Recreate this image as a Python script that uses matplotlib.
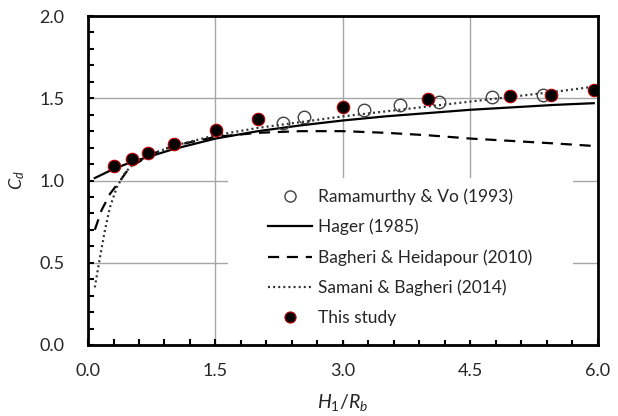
import numpy as np
import matplotlib.pyplot as plt
from matplotlib.lines import Line2D
from matplotlib.patches import Rectangle
from matplotlib.ticker import MultipleLocator

plt.rcParams['font.family'] = ['Lato', 'DejaVu Sans']
plt.rcParams['mathtext.fontset'] = 'custom'
plt.rcParams['mathtext.it'] = 'Lato:italic'
plt.rcParams['mathtext.rm'] = 'Lato'

# Ramamurthy & Vo (1993) - open circles
ram_x = [2.29, 2.54, 3.25, 3.67, 4.13, 4.75, 5.35]
ram_y = [1.35, 1.386, 1.43, 1.46, 1.477, 1.508, 1.52]

# Hager (1985) - solid line
hager_x = [0.08, 0.3, 0.5, 0.75, 1.0, 1.5, 2.0, 2.5, 3.0, 3.5, 4.0, 4.5, 5.0, 5.5, 5.95]
hager_y = [1.015, 1.07, 1.11, 1.15, 1.19, 1.255, 1.30, 1.335, 1.365, 1.39, 1.41, 1.43, 1.445, 1.46, 1.47]

# Bagheri & Heidapour (2010) - dashed line
bh_x = [0.08, 0.16, 0.26, 0.38, 0.49, 0.75, 1.0, 1.5, 2.0, 2.5, 3.0, 3.5, 4.0, 4.5, 5.0, 5.5, 5.95]
bh_y = [0.70, 0.82, 0.92, 1.0, 1.08, 1.16, 1.21, 1.265, 1.29, 1.30, 1.30, 1.29, 1.275, 1.255, 1.24, 1.225, 1.21]

# Samani & Bagheri (2014) - dotted line
sb_x = [0.08, 0.14, 0.2, 0.26, 0.34, 0.44, 0.55, 0.75, 1.0, 1.5, 2.0, 2.5, 3.0, 3.5, 4.0, 4.5, 5.0, 5.5, 5.95]
sb_y = [0.35, 0.53, 0.70, 0.84, 0.96, 1.05, 1.11, 1.16, 1.21, 1.275, 1.32, 1.355, 1.39, 1.42, 1.45, 1.48, 1.51, 1.54, 1.57]

# This study - filled circles
this_x = [0.31, 0.52, 0.71, 1.01, 1.51, 2.0, 3.0, 4.0, 4.96, 5.45, 5.95]
this_y = [1.088, 1.13, 1.167, 1.22, 1.31, 1.374, 1.447, 1.495, 1.514, 1.52, 1.55]

labels = ['Ramamurthy & Vo (1993)', 'Hager (1985)', 'Bagheri & Heidapour (2010)',
          'Samani & Bagheri (2014)', 'This study']

txt = '#262626'

fig = plt.figure(figsize=(6.18, 4.16), dpi=100)
ax = fig.add_axes([0.1424, 0.1707, 0.8252, 0.7908])

ax.plot(hager_x, hager_y, color='black', lw=1.6, zorder=3)
ax.plot(bh_x, bh_y, color='black', lw=1.6, dashes=(5, 3.5), zorder=3)
ax.plot(sb_x, sb_y, color='#333333', lw=1.6, dashes=(0.9, 1.4), zorder=3)
ax.plot(ram_x, ram_y, 'o', mfc='none', mec='#404040', mew=1.0, ms=9, zorder=4)
ax.plot(this_x, this_y, 'o', mfc='black', mec='#c00000', mew=0.8, ms=9, zorder=5)

ax.set_xlim(0, 6)
ax.set_ylim(0, 2)
ax.xaxis.set_major_locator(MultipleLocator(1.5))
ax.yaxis.set_major_locator(MultipleLocator(0.5))
ax.xaxis.set_minor_locator(MultipleLocator(0.3))
ax.yaxis.set_minor_locator(MultipleLocator(0.1))
ax.xaxis.set_major_formatter(lambda v, p: f'{v:.1f}')
ax.yaxis.set_major_formatter(lambda v, p: f'{v:.1f}')
ax.tick_params(which='both', direction='in', width=1.5, colors='black', labelcolor=txt, labelsize=13)
ax.tick_params(which='both', length=4)
ax.tick_params(axis='x', which='major', pad=13)
ax.tick_params(axis='y', which='major', pad=17)
ax.grid(True, which='major', color='#a6a6a6', lw=1.0)
ax.set_axisbelow(True)
for s in ax.spines.values():
    s.set_linewidth(2.0)
    s.set_zorder(6)

ax.set_xlabel(r'$H_1/R_b$', fontsize=14, color=txt, labelpad=9)
ax.set_ylabel(r'$C_d$', fontsize=13, color=txt, labelpad=9)

# white box behind the legend hides the grid lines there
ax.add_patch(Rectangle((0.2745, 0.015), 0.6765, 0.493, transform=ax.transAxes,
                       facecolor='white', edgecolor='none', zorder=1.5))

handles = [
    Line2D([], [], ls='none', marker='o', mfc='none', mec='#404040', mew=1.0, ms=8),
    Line2D([], [], color='black', lw=1.6),
    Line2D([], [], color='black', lw=1.6, dashes=(5, 3.5)),
    Line2D([], [], color='#333333', lw=1.6, dashes=(0.9, 1.4)),
    Line2D([], [], ls='none', marker='o', mfc='black', mec='#c00000', mew=0.8, ms=8),
]
leg = ax.legend(handles, labels, loc='upper left', bbox_to_anchor=(0.353, 0.476),
                borderaxespad=0, frameon=False, fontsize=12.5, handlelength=2.55,
                handletextpad=0.3, labelspacing=0.8, borderpad=0)
for t in leg.get_texts():
    t.set_color(txt)

fig.savefig('out.png', dpi=100)
